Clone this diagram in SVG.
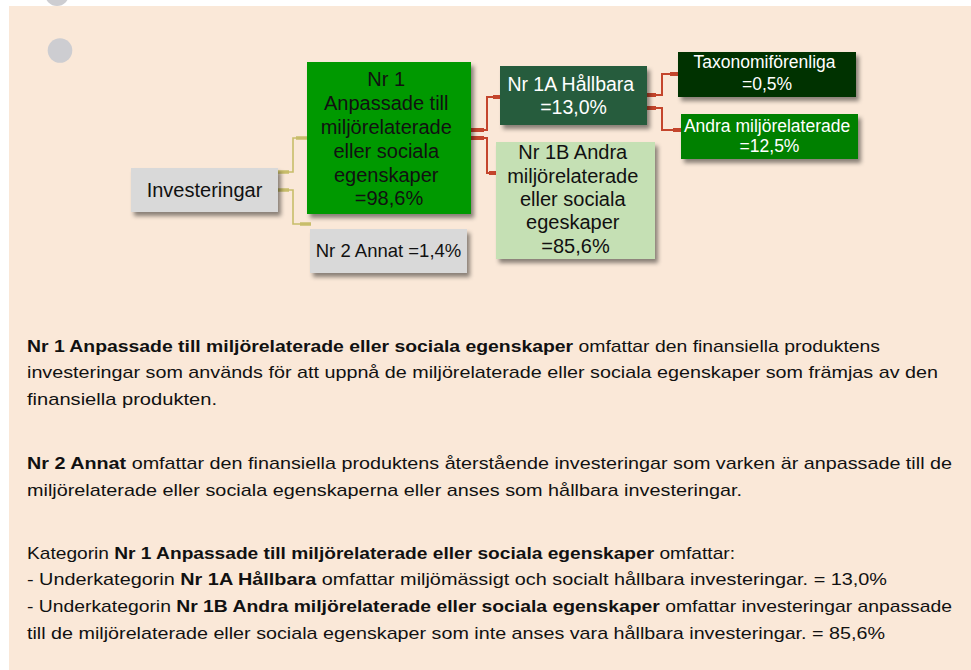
<svg xmlns="http://www.w3.org/2000/svg" width="971" height="670" viewBox="0 0 971 670">
<defs>
<filter id="sh" x="-10%" y="-10%" width="130%" height="140%">
<feDropShadow dx="3" dy="4" stdDeviation="2.2" flood-color="#000" flood-opacity="0.45"/>
</filter>
</defs>
<style>
.n{font-family:"Liberation Sans",Arial,sans-serif;text-anchor:middle}
.b{font-family:"Liberation Sans",Arial,sans-serif;font-size:17px;fill:#111}
.bd{font-weight:bold}
.ol{fill:none;stroke:#C8BD6A;stroke-width:1.6}
.olt{fill:none;stroke:#C8BD6A;stroke-width:3.5}
.rd{fill:none;stroke:#C4452C;stroke-width:2}
.rdt{fill:none;stroke:#C4452C;stroke-width:4}
</style>
<rect x="0" y="0" width="971" height="670" fill="#FFFFFF"/>
<rect x="9" y="6" width="962" height="664" fill="#FAE8D8"/>
<circle cx="57" cy="-6" r="12" fill="#CDCDD1"/>
<circle cx="60" cy="50.5" r="12.3" fill="#CDCDD1"/>

<g id="connectors">
<path class="ol" d="M278,172 H293 V138 H307"/>
<path class="olt" d="M278,172 H289 M296,138 H307"/>
<path class="ol" d="M278,190 H293 V224 H311"/>
<path class="olt" d="M278,190 H289 M300,224 H311"/>
<path class="rd" d="M471,130 H487 V97 H500"/>
<path class="rdt" d="M471,130 H484 M493,97 H500"/>
<path class="rd" d="M471,138 H487 V173 H496"/>
<path class="rdt" d="M471,138 H484 M489,173 H496"/>
<path class="rd" d="M647,95 H662 V74 H678"/>
<path class="rdt" d="M647,95 H656 M670,74 H678"/>
<path class="rd" d="M647,108 H662 V130 H681"/>
<path class="rdt" d="M647,108 H656 M673,130 H681"/>
</g>

<g id="investeringar">
<rect x="131" y="168" width="147" height="44" fill="#D9D9D9" filter="url(#sh)"/>
<text class="n" x="204.5" y="197" font-size="20" fill="#111">Investeringar</text>
</g>

<g id="nr1">
<rect x="307" y="62" width="164" height="152" fill="#009900" filter="url(#sh)"/>
<text class="n" font-size="20" fill="#111">
<tspan x="389" y="86">Nr 1</tspan>
<tspan x="389" y="110">Anpassade till</tspan>
<tspan x="389" y="134">miljörelaterade</tspan>
<tspan x="389" y="158">eller sociala</tspan>
<tspan x="389" y="182">egenskaper</tspan>
<tspan x="389" y="205">=98,6%</tspan>
</text>
</g>

<g id="nr2">
<rect x="310" y="229" width="157" height="44" fill="#D9D9D9" filter="url(#sh)"/>
<text class="n" x="388.5" y="257" font-size="18.5" fill="#111">Nr 2 Annat =1,4%</text>
</g>

<g id="nr1a">
<rect x="500" y="66" width="147" height="59" fill="#265C3E" filter="url(#sh)"/>
<text class="n" font-size="19.5" fill="#FFFFFF">
<tspan x="573.5" y="91">Nr 1A Hållbara</tspan>
<tspan x="573.5" y="114">=13,0%</tspan>
</text>
</g>

<g id="nr1b">
<rect x="496" y="142" width="159" height="117" fill="#C5E0B4" filter="url(#sh)"/>
<text class="n" font-size="20" fill="#111">
<tspan x="575.5" y="159">Nr 1B Andra</tspan>
<tspan x="575.5" y="183">miljörelaterade</tspan>
<tspan x="575.5" y="206">eller sociala</tspan>
<tspan x="575.5" y="229">egeskaper</tspan>
<tspan x="575.5" y="253">=85,6%</tspan>
</text>
</g>

<g id="taxonomi">
<rect x="678" y="52" width="178" height="45" fill="#003300" filter="url(#sh)"/>
<text class="n" font-size="17.5" fill="#FFFFFF">
<tspan x="767" y="68">Taxonomiförenliga</tspan>
<tspan x="767" y="90">=0,5%</tspan>
</text>
</g>

<g id="andra">
<rect x="681" y="114" width="177" height="45" fill="#008000" filter="url(#sh)"/>
<text class="n" font-size="17.5" fill="#FFFFFF">
<tspan x="769.5" y="132">Andra miljörelaterade</tspan>
<tspan x="769.5" y="152">=12,5%</tspan>
</text>
</g>

<g id="text">
<text class="b" x="27" y="352" textLength="853" lengthAdjust="spacingAndGlyphs"><tspan class="bd">Nr 1 Anpassade till miljörelaterade eller sociala egenskaper</tspan> omfattar den finansiella produktens</text>
<text class="b" x="27" y="378" textLength="911" lengthAdjust="spacingAndGlyphs">investeringar som används för att uppnå de miljörelaterade eller sociala egenskaper som främjas av den</text>
<text class="b" x="27" y="405" textLength="190" lengthAdjust="spacingAndGlyphs">finansiella produkten.</text>

<text class="b" x="27" y="469" textLength="925" lengthAdjust="spacingAndGlyphs"><tspan class="bd">Nr 2 Annat</tspan> omfattar den finansiella produktens återstående investeringar som varken är anpassade till de</text>
<text class="b" x="27" y="496" textLength="715" lengthAdjust="spacingAndGlyphs">miljörelaterade eller sociala egenskaperna eller anses som hållbara investeringar.</text>

<text class="b" x="27" y="559" textLength="708" lengthAdjust="spacingAndGlyphs">Kategorin <tspan class="bd">Nr 1 Anpassade till miljörelaterade eller sociala egenskaper</tspan> omfattar:</text>
<text class="b" x="27" y="585" textLength="860" lengthAdjust="spacingAndGlyphs">- Underkategorin <tspan class="bd">Nr 1A Hållbara</tspan> omfattar miljömässigt och socialt hållbara investeringar. = 13,0%</text>
<text class="b" x="27" y="612" textLength="925" lengthAdjust="spacingAndGlyphs">- Underkategorin <tspan class="bd">Nr 1B Andra miljörelaterade eller sociala egenskaper</tspan> omfattar investeringar anpassade</text>
<text class="b" x="27" y="639" textLength="858" lengthAdjust="spacingAndGlyphs">till de miljörelaterade eller sociala egenskaper som inte anses vara hållbara investeringar. = 85,6%</text>
</g>
</svg>
